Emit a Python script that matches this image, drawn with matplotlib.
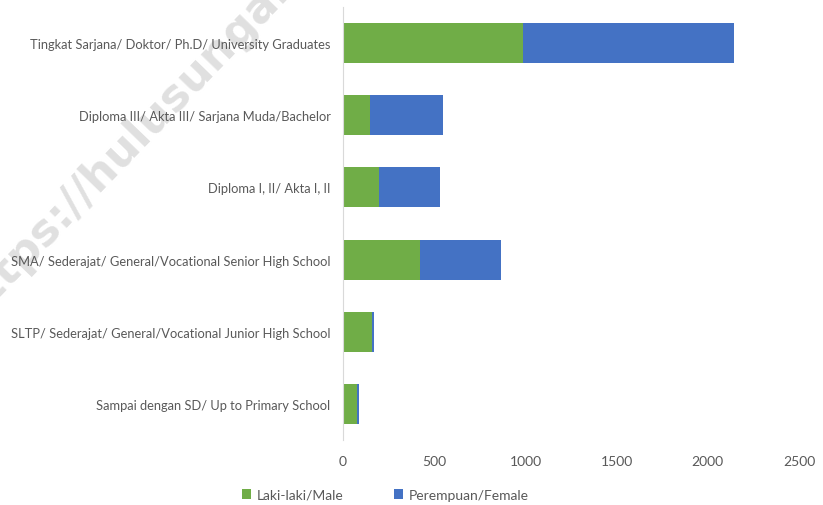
import matplotlib.pyplot as plt

plt.rcParams['font.family'] = ['Lato', 'DejaVu Sans']

# Categories (top to bottom as shown in the chart)
kategori = [
    'Tingkat Sarjana/ Doktor/ Ph.D/ University Graduates',
    'Diploma III/ Akta III/ Sarjana Muda/Bachelor',
    'Diploma I, II/ Akta I, II',
    'SMA/ Sederajat/ General/Vocational Senior High School',
    'SLTP/ Sederajat/ General/Vocational Junior High School',
    'Sampai dengan SD/ Up to Primary School',
]
laki_laki = [987, 148, 196, 420, 159, 78]
perempuan = [1158, 402, 336, 448, 13, 8]
x_ticks = [0, 500, 1000, 1500, 2000, 2500]

hijau = '#70AD47'
biru = '#4472C4'
abu = '#595959'

fig = plt.figure(figsize=(8.23, 5.06), dpi=100)

# Watermark (di belakang semua elemen)
fig.text(-0.035, 0.36, 'https://hulusungaitengahkab.go.id', rotation=46,
         rotation_mode='anchor', fontsize=32, fontweight='bold',
         family='DejaVu Sans',
         color='#e0e0e0', ha='left', va='baseline', zorder=-5)

ax = fig.add_axes([0.4168, 0.1285, 0.5541, 0.8557])
ax.patch.set_alpha(0)

y = list(range(len(kategori)))[::-1]
ax.barh(y, laki_laki, height=0.556, color=hijau, label='Laki-laki/Male')
ax.barh(y, perempuan, left=laki_laki, height=0.556, color=biru,
        label='Perempuan/Female')

ax.set_xlim(0, 2500)
ax.set_ylim(-0.5, len(kategori) - 0.5)
ax.set_xticks(x_ticks)
ax.set_yticks(y)
ax.set_yticklabels(kategori)
ax.tick_params(axis='both', length=0, labelcolor=abu)
ax.tick_params(axis='y', labelsize=9.3, pad=9)
ax.tick_params(axis='x', labelsize=10, pad=11)

for s in ['top', 'right', 'bottom']:
    ax.spines[s].set_visible(False)
ax.spines['left'].set_color('#d9d9d9')

fig.legend(loc='center', bbox_to_anchor=(0.468, 0.02), ncol=2, frameon=False,
           fontsize=10, labelcolor=abu, handlelength=0.7, handleheight=0.7,
           handletextpad=0.4, columnspacing=3.6)

fig.savefig('out.png', dpi=100)
